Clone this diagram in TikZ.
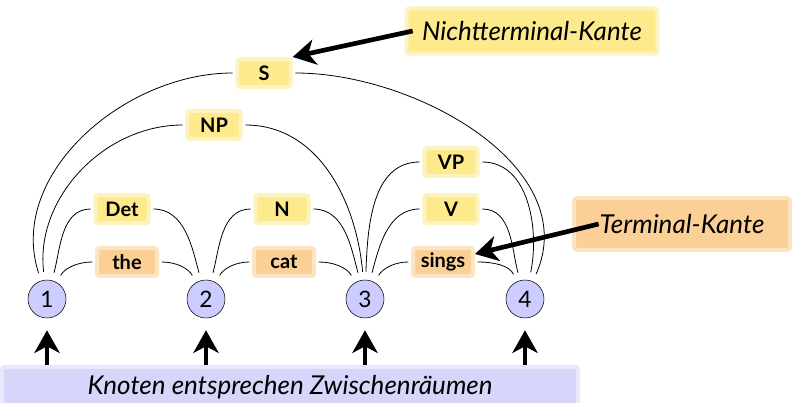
\documentclass[tikz,border=0pt]{standalone}
\usepackage{fontspec}
\setmainfont{Lato}
\usetikzlibrary{arrows.meta}
\definecolor{hlyellow}{RGB}{252,234,140}
\definecolor{hlorange}{RGB}{250,208,150}
\definecolor{hlblue}{RGB}{214,214,250}
\definecolor{knotfill}{RGB}{204,204,255}
\tikzset{hl/.style={fill=#1,draw=#1!55,line width=3pt,rounded corners=2pt}}
\tikzset{num/.style={circle,draw,fill=knotfill,minimum size=28.5pt,inner sep=0pt,font=\fontsize{17}{18}\selectfont}}
\tikzset{nt/.style={hl=hlyellow,minimum width=40pt,minimum height=21pt,inner sep=1pt,font=\fontsize{15}{16}\selectfont\bfseries}}
\tikzset{te/.style={hl=hlorange,minimum width=45pt,minimum height=21pt,inner sep=1pt,font=\fontsize{15}{16}\selectfont\bfseries}}
\tikzset{note/.style={font=\fontsize{19.5}{22}\selectfont\itshape}}
\tikzset{link/.style={line width=0.6pt,shorten <=6pt,shorten >=2pt}}
\tikzset{big/.style={-{Stealth[length=17pt,width=19pt,inset=5pt]},line width=3.5pt}}

\begin{document}
\begin{tikzpicture}[x=0.75pt,y=0.75pt]
\useasboundingbox (0,0) rectangle (794,403);

% highlighted remarks
\node[note,hl=hlyellow,minimum width=188pt,minimum height=34pt](nterm) at (532,372) {Nichtterminal-Kante};
\node[note,hl=hlorange,minimum width=162pt,minimum height=39pt](tterm) at (682,179) {Terminal-Kante};
\node[note,hl=hlblue,minimum width=432pt,minimum height=30pt](knot) at (290,16) {Knoten entsprechen Zwischenräumen};

% chart nodes
\node[num](n1) at (47,104) {1};
\node[num](n2) at (206,104) {2};
\node[num](n3) at (365,104) {3};
\node[num](n4) at (525,104) {4};

% terminal edges
\node[te](the) at (127,141) {the};
\node[te](cat) at (284,141) {cat};
\node[te](sings) at (443,141) {sings};

% nonterminal edges
\node[nt](det) at (122,194) {Det};
\node[nt](noun) at (282,194) {N};
\node[nt](verb) at (451,194) {V};
\node[nt](vp) at (451,241) {VP};
\node[nt](np) at (214,278) {NP};
\node[nt](s) at (264,330) {S};

\draw[link] (n1) to[out=60,in=180] (the);
\draw[link] (n2) to[out=120,in=0] (the);
\draw[link] (n2) to[out=60,in=180] (cat);
\draw[link] (n3) to[out=120,in=0] (cat);
\draw[link] (n3) to[out=60,in=180] (sings);
\draw[link] (n4) to[out=115,in=0] (sings);

\draw[link] (n1) to[out=75,in=180] (det);
\draw[link] (n2) to[out=105,in=0] (det);
\draw[link] (n2) to[out=75,in=180] (noun);
\draw[link] (n3) to[out=105,in=0] (noun);
\draw[link] (n3) to[out=75,in=180] (verb);
\draw[link] (n4) to[out=105,in=0] (verb);
\draw[link] (n3) to[out=88,in=180] (vp);
\draw[link] (n4) to[out=78,in=0] (vp);
\draw[link] (n1) to[out=97,in=180] (np);
\draw[link] (n3) to[out=95,in=0] (np);
\draw[link] (n1) to[out=108,in=180] (s);
\draw[link] (n4) to[out=66,in=0] (s);

% pointers
\draw[big] ([xshift=6pt]nterm.west) -- (s.north east);
\draw[big] ([xshift=20pt]tterm.west) -- ([yshift=6pt]sings.east);
\draw[big,shorten >=9pt] (n1 |- knot.north) -- (n1);
\draw[big,shorten >=9pt] (n2 |- knot.north) -- (n2);
\draw[big,shorten >=9pt] (n3 |- knot.north) -- (n3);
\draw[big,shorten >=9pt] (n4 |- knot.north) -- (n4);

\end{tikzpicture}
\end{document}
